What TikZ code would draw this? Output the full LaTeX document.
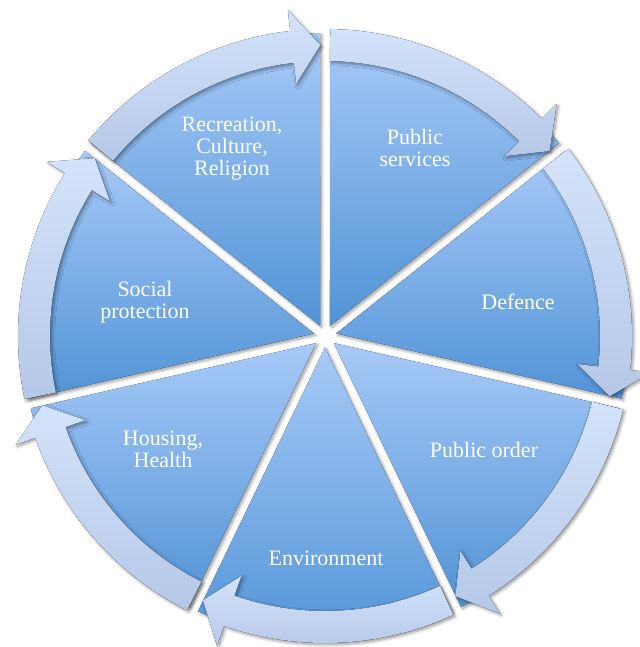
\documentclass[tikz,border=0pt]{standalone}
\usepackage{fontspec}
\setmainfont{Liberation Serif}
\usetikzlibrary{shadows.blur}
\definecolor{segtop}{HTML}{A7CAF8}
\definecolor{segbot}{HTML}{5193D6}
\definecolor{arrtop}{HTML}{D3E3FB}
\definecolor{arrbot}{HTML}{B5C8E7}
\begin{document}
\begin{tikzpicture}[x=1pt,y=1pt,
  softshadow/.style={blur shadow={shadow xshift=1.8pt, shadow yshift=-1.8pt,
      shadow blur steps=6, shadow blur radius=3pt, shadow opacity=40}},
  wedge/.style={top color=segtop, bottom color=segbot, draw=none, softshadow},
  ringarrow/.style={top color=arrtop, bottom color=arrbot, draw=none, softshadow},
  seglabel/.style={text=white, font=\fontsize{22}{22}\selectfont, align=center}]
\useasboundingbox (0,0) rectangle (639,-647);
\begin{scope}[shift={(325,-336)}]
  % seven pie segments, separated by narrow gaps
  \foreach \k in {0,...,6} {
    \pgfmathsetmacro\angA{90-\k*360/7}
    \pgfmathsetmacro\angB{\angA-360/7}
    \pgfmathsetmacro\angM{(\angA+\angB)/2}
    \fill[wedge] (\angM:11.5) -- (\angA-0.95:303)
      arc[start angle=\angA-0.95, end angle=\angB+0.95, radius=303] -- cycle;
  }
  % curved arrows along the rim, running clockwise
  \foreach \k in {0,...,6} {
    \pgfmathsetmacro\angT{90-\k*360/7-1.0}
    \pgfmathsetmacro\angE{90-(\k+1)*360/7+0.9}
    \pgfmathsetmacro\angH{\angE+5.6}
    \fill[ringarrow] (\angT:307) arc[start angle=\angT, end angle=\angH, radius=307]
      -- (\angH:328) -- (\angE:291) -- (\angH:254) -- (\angH:275)
      arc[start angle=\angH, end angle=\angT, radius=275] -- cycle;
  }
\end{scope}
\node[seglabel] (recreation) at (232,-149) {Recreation,\\Culture,\\Religion};
\node[seglabel] (services) at (415,-148) {Public\\services};
\node[seglabel] (defence) at (518,-302) {Defence};
\node[seglabel] (order) at (484,-450) {Public order};
\node[seglabel] (environment) at (326,-558) {Environment};
\node[seglabel] (housing) at (163,-449) {Housing,\\Health};
\node[seglabel] (social) at (145,-302) {Social\\protection};
\end{tikzpicture}
\end{document}
